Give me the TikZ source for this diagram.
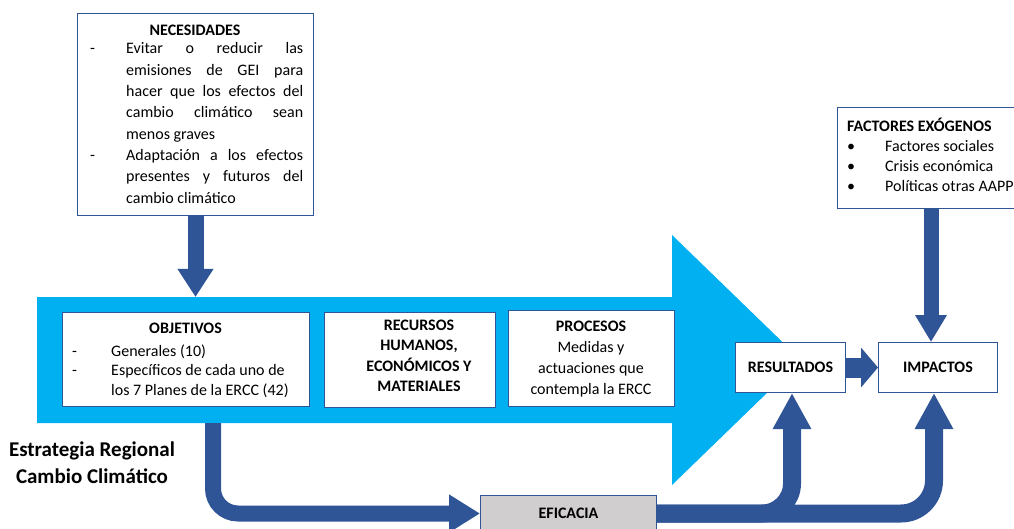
\documentclass[tikz,border=0pt]{standalone}
\usepackage{fontspec}
\setmainfont{Carlito}
\usetikzlibrary{arrows.meta}
\definecolor{cyanband}{HTML}{00B0F0}
\definecolor{darkblue}{HTML}{2F5597}
\definecolor{efigray}{HTML}{D0CECE}
\newcommand{\fsz}[2]{\fontsize{#1}{#2}\selectfont}
\newcommand{\jline}[1]{\makebox[177pt][s]{#1}}
\newcommand{\dashitem}[1]{\makebox[36pt][l]{-}#1}
\newcommand{\contitem}[1]{\hspace*{36pt}#1}
\begin{document}
\begin{tikzpicture}[x=1pt,y=-1pt,
  box/.style={draw=darkblue, line width=1pt, fill=white, inner sep=0pt, anchor=north west},
  txt/.style={inner sep=0pt, anchor=base},
  txtw/.style={inner sep=0pt, anchor=base west},
  blockarrow/.style={draw=darkblue, line cap=butt}]
\useasboundingbox (0,0) rectangle (1014,529);
\clip (0,0) rectangle (1014,529);

% big cyan arrow
\fill[cyanband] (37,297) -- (672,297) -- (672,235) -- (801,360) -- (672,485) -- (672,423) -- (37,423) -- cycle;
\coordinate (bandtop) at (0,297);
\coordinate (objout) at (213,423);

% NECESIDADES
\node[box, minimum width=236pt, minimum height=202pt] (nec) at (77,13) {};
\node[txt, font=\bfseries\fsz{16}{19}] (necH) at (195,36) {NECESIDADES};
\node[txtw] (necT) at (90,54) {\parbox[t]{216pt}{\fsz{16}{21.3}%
\dashitem{\jline{Evitar o reducir las}}\\
\contitem{\jline{emisiones de GEI para}}\\
\contitem{\jline{hacer que los efectos del}}\\
\contitem{\jline{cambio climático sean}}\\
\contitem{menos graves}\\
\dashitem{\jline{Adaptación a los efectos}}\\
\contitem{\jline{presentes y futuros del}}\\
\contitem{cambio climático}}};

% OBJETIVOS
\node[box, minimum width=247pt, minimum height=94pt] (obj) at (62,312) {};
\node[txt, font=\bfseries\fsz{16}{19}] (objH) at (185.5,333) {OBJETIVOS};
\node[txtw] (objT) at (72,356) {\parbox[t]{236pt}{\fsz{16}{19.5}%
\makebox[39pt][l]{-}Generales (10)\\
\makebox[39pt][l]{-}Específicos de cada uno de\\
\hspace*{39pt}los 7 Planes de la ERCC (42)}};

% RECURSOS
\node[box, minimum width=171pt, minimum height=95pt] (rec) at (324,312) {};
\node[txt] (recT) at (419,330) {\parbox[t]{170pt}{\centering\bfseries\fsz{16}{20.5}%
RECURSOS\\HUMANOS,\\ECONÓMICOS Y\\MATERIALES}};

% PROCESOS
\node[box, minimum width=166pt, minimum height=96pt] (pro) at (508,310) {};
\node[txt] (proT) at (591,331) {\parbox[t]{160pt}{\centering\fsz{16}{21}%
\textbf{PROCESOS}\\Medidas y\\actuaciones que\\contempla la ERCC}};

% RESULTADOS, IMPACTOS
\node[box, minimum width=110pt, minimum height=50pt, font=\bfseries\fsz{16}{19}] (res) at (735,342) {RESULTADOS};
\node[box, minimum width=119pt, minimum height=50pt, font=\bfseries\fsz{16}{19}] (imp) at (878,342) {IMPACTOS};

% FACTORES EXOGENOS
\node[box, minimum width=200pt, minimum height=101pt] (fac) at (837,107) {};
\node[txtw, font=\bfseries\fsz{16}{19}] (facH) at (847,132) {FACTORES EXÓGENOS};
\node[txtw] (facT) at (847,152) {\parbox[t]{200pt}{\fsz{16}{20}%
\makebox[38pt][l]{\textbullet}Factores sociales\\
\makebox[38pt][l]{\textbullet}Crisis económica\\
\makebox[38pt][l]{\textbullet}Políticas otras AAPP}};

% EFICACIA
\node[box, minimum width=176pt, minimum height=36pt, fill=efigray, font=\bfseries\fsz{16}{19}] (efi) at (480,495) {EFICACIA};

% Estrategia label
\node[txt] (ercc) at (92,456) {\parbox[t]{200pt}{\centering\bfseries\fsz{21}{27}%
Estrategia Regional\\Cambio Climático}};

% arrows
\coordinate (fx) at (931,0);
\coordinate (rx) at (792,0);
\coordinate (ix) at (934,0);
\draw[blockarrow, line width=16pt, -{Triangle[width=34pt,length=28pt]}] (nec.south) -- (nec.south |- bandtop);
\draw[blockarrow, line width=15pt, -{Triangle[width=30pt,length=27pt]}] (fx |- fac.south) -- (fx |- imp.north);
\draw[blockarrow, line width=20pt, -{Triangle[width=39pt,length=17pt]}] (res.east) -- (imp.west);
\draw[blockarrow, line width=16pt, rounded corners=25pt, -{Triangle[width=36pt,length=31pt]}] (objout) |- (efi.west);
\draw[blockarrow, line width=18pt, rounded corners=33pt, -{Triangle[width=36pt,length=36pt]}] (efi.east) -| (ix |- imp.south);
\draw[blockarrow, line width=18pt, rounded corners=30pt, -{Triangle[width=36pt,length=36pt]}] (efi.east) -| (rx |- res.south);
\end{tikzpicture}
\end{document}
